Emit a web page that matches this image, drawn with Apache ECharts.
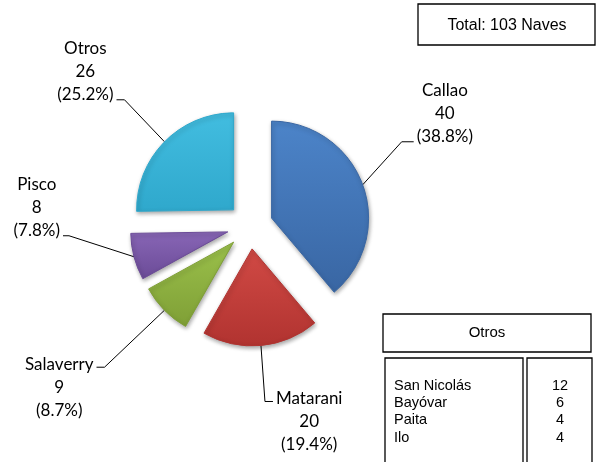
<!DOCTYPE html>
<html>
<head>
<meta charset="utf-8">
<script src="https://cdn.jsdelivr.net/npm/echarts@6/dist/echarts.min.js"></script>
<style>
html, body { margin: 0; padding: 0; background: #fff; }
#pie { width: 605px; height: 462px; }
</style>
</head>
<body>
<div id="pie"></div>
<script>
// naves por puerto
var ports = ['Callao', 'Matarani', 'Salaverry', 'Pisco', 'Otros'];
var ships = [40, 20, 9, 8, 26];
// detalle de "Otros"
var otherPorts = ['San Nicolás', 'Bayóvar', 'Paita', 'Ilo'];
var otherShips = [12, 6, 4, 4];

var total = ships.reduce(function (a, b) { return a + b; }, 0);

// gradient top -> bottom for every slice
var sliceColors = [
    ['#4c84c9', '#3966a3'],
    ['#d14a45', '#b13330'],
    ['#9bc14b', '#7f9f36'],
    ['#8866b6', '#6b4b97'],
    ['#42bde0', '#2fa8cc']
];
// label line: bend offset from the slice edge, tail length, which text row it meets
var leaders = [
    [39, -43, 12, 'last'],
    [4, 56, 8, 'first'],
    [-60, 57, 8, 'first'],
    [-65, -21, 6, 'last'],
    [-40, -42, 8, 'last']
];

var cx = 250, cy = 226, radius = 97, explode = 23;
var lineH = 23;

var series = [];
var acc = 0;
ports.forEach(function (name, i) {
    var mid = (acc + ships[i] / 2) / total * Math.PI * 2;   // clockwise from 12 o'clock
    acc += ships[i];
    series.push({
        type: 'pie',
        radius: radius,
        center: [cx + explode * Math.sin(mid), cy - explode * Math.cos(mid)],
        startAngle: 90,
        clockwise: true,
        avoidLabelOverlap: false,
        silent: true,
        animation: false,
        data: ports.map(function (p, j) {
            var own = j === i;
            return {
                name: p,
                value: ships[j],
                itemStyle: own ? {
                    color: {
                        type: 'linear', x: 0, y: 0, x2: 0, y2: 1,
                        colorStops: [
                            { offset: 0, color: sliceColors[j][0] },
                            { offset: 1, color: sliceColors[j][1] }
                        ]
                    },
                    borderColor: sliceColors[j][1],
                    borderWidth: 1,
                    shadowBlur: 4,
                    shadowOffsetX: 1,
                    shadowOffsetY: 2,
                    shadowColor: 'rgba(0,0,0,0.35)'
                } : { color: 'rgba(0,0,0,0)', borderWidth: 0 },
                label: { show: own },
                labelLine: { show: own }
            };
        }),
        label: {
            position: 'outside',
            formatter: function (p) {
                var pct = (p.value / total * 100).toFixed(1);
                return '{t|' + p.name + '}\n{t|' + p.value + '}\n{t|(' + pct + '%)}';
            },
            rich: {
                t: {
                    align: 'center',
                    fontFamily: 'Lato',
                    fontSize: 17,
                    lineHeight: lineH,
                    color: '#000'
                }
            }
        },
        labelLine: {
            show: true,
            length: 20,
            length2: 10,
            lineStyle: { color: '#000', width: 1 }
        },
        labelLayout: function (p) {
            if (p.dataIndex !== i || !p.labelLinePoints) return {};
            var lead = leaders[i];
            var s = p.labelLinePoints[0];
            var right = lead[0] >= 0;
            var bend = [s[0] + lead[0], s[1] + lead[1]];
            var end = [bend[0] + (right ? lead[2] : -lead[2]), bend[1]];
            var top = lead[3] === 'last';
            return {
                x: end[0] + (right ? 3 : -3),
                y: top ? end[1] - 5 + lineH / 2 : end[1] - 3 - lineH / 2,
                align: right ? 'left' : 'right',
                verticalAlign: top ? 'bottom' : 'top',
                labelLinePoints: [s, bend, end]
            };
        }
    });
});

var fam = '"Liberation Sans", Arial, sans-serif';
var boxLine = { fill: '#fff', stroke: '#000', lineWidth: 1.3 };

var myChart = echarts.init(document.getElementById('pie'));
myChart.setOption({
    animation: false,
    series: series,
    graphic: {
        elements: [
            { type: 'rect', shape: { x: 418, y: 4, width: 177, height: 41 }, style: boxLine },
            { type: 'text', style: { text: 'Total: ' + total + ' Naves', x: 507, y: 26, align: 'center', verticalAlign: 'middle', font: '16px ' + fam, fill: '#000' } },
            { type: 'rect', shape: { x: 383, y: 314, width: 208, height: 38 }, style: boxLine },
            { type: 'text', style: { text: ports[4], x: 487, y: 333, align: 'center', verticalAlign: 'middle', font: '15px ' + fam, fill: '#000' } },
            { type: 'rect', shape: { x: 385, y: 358, width: 138, height: 120 }, style: boxLine },
            { type: 'rect', shape: { x: 527, y: 358, width: 65, height: 120 }, style: boxLine },
            { type: 'text', style: { text: otherPorts.join('\n'), x: 394, y: 377, align: 'left', verticalAlign: 'top', font: '14.5px ' + fam, lineHeight: 17.3, fill: '#000' } },
            { type: 'text', style: { text: otherShips.join('\n'), x: 560, y: 377, align: 'center', verticalAlign: 'top', font: '14.5px ' + fam, lineHeight: 17.3, fill: '#000' } }
        ]
    }
});
</script>
</body>
</html>
